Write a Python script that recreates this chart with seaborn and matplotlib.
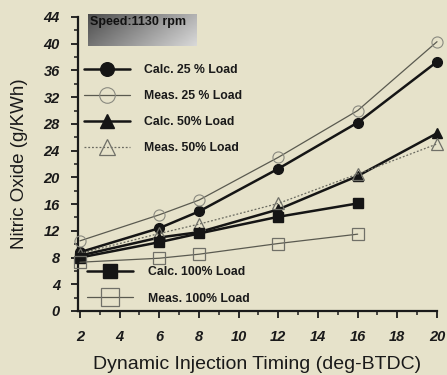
import numpy as np
import pandas as pd
import matplotlib
matplotlib.use("Agg")
import matplotlib.pyplot as plt
from matplotlib.lines import Line2D
from matplotlib.ticker import MultipleLocator
import seaborn as sns

# ---- data ----
timing_full = [2, 6, 8, 12, 16, 20]
timing_100 = [2, 6, 8, 12, 16]
calc_25 = [8.8, 12.4, 14.9, 21.3, 28.2, 37.3]
meas_25 = [10.5, 14.4, 16.6, 23.0, 30.0, 40.3]
calc_50 = [8.3, 11.0, 11.8, 15.2, 20.2, 26.6]
meas_50 = [8.6, 11.6, 13.0, 16.1, 20.5, 25.0]
calc_100 = [8.0, 10.3, 11.6, 14.1, 16.1]
meas_100 = [7.3, 7.9, 8.5, 10.1, 11.5]

labels = ["Calc. 25 % Load", "Meas. 25 % Load", "Calc. 50% Load",
          "Meas. 50% Load", "Calc. 100% Load", "Meas. 100% Load"]
x_ticks = [2, 4, 6, 8, 10, 12, 14, 16, 18, 20]
y_ticks = [0, 4, 8, 12, 16, 20, 24, 28, 32, 36, 40, 44]
speed_text = "Speed:1130 rpm"
x_label = "Dynamic Injection Timing (deg-BTDC)"
y_label = "Nitric Oxide (g/KWh)"

sns.set_style("ticks")
plt.rcParams["font.family"] = ["Liberation Sans", "DejaVu Sans"]

BG = "#e6e2ca"
fig = plt.figure(figsize=(4.47, 3.75), dpi=100, facecolor=BG)
ax = fig.add_axes([78 / 447, 1 - 311 / 375, (437 - 78) / 447, (311 - 17) / 375])
ax.set_facecolor(BG)

series = [
    (timing_full, calc_25, dict(color="#151515", lw=1.8, marker="o", ms=7, mfc="#151515", mec="#151515", ls="-")),
    (timing_full, meas_25, dict(color="#5a5a50", lw=0.9, marker="o", ms=8, mfc="none", mec="#8a8a80", mew=0.8, ls="-")),
    (timing_full, calc_50, dict(color="#151515", lw=1.8, marker="^", ms=7, mfc="#151515", mec="#151515", ls="-")),
    (timing_full, meas_50, dict(color="#6a6a60", lw=0.9, marker="^", ms=8, mfc="none", mec="#707068", mew=0.9, ls=(0, (1.5, 1.5)))),
    (timing_100, calc_100, dict(color="#151515", lw=1.8, marker="s", ms=7, mfc="#151515", mec="#151515", ls="-")),
    (timing_100, meas_100, dict(color="#5a5a50", lw=0.9, marker="s", ms=9, mfc="none", mec="#707068", mew=0.9, ls="-")),
]

handles = []
for (xs, ys, st), lab in zip(series, labels):
    df = pd.DataFrame({"x": xs, "y": ys})
    sns.lineplot(data=df, x="x", y="y", ax=ax, color=st["color"], linewidth=st["lw"],
                 marker=st["marker"], markersize=st["ms"], markerfacecolor=st["mfc"],
                 markeredgecolor=st["mec"], markeredgewidth=st.get("mew", 1.0),
                 linestyle=st["ls"], legend=False, clip_on=False, zorder=3)
    handles.append(Line2D([], [], color=st["color"], lw=st["lw"], marker=st["marker"],
                          markersize=st["ms"] * 1.4, markerfacecolor=st["mfc"],
                          markeredgecolor=st["mec"], markeredgewidth=st.get("mew", 1.0),
                          linestyle=st["ls"]))

ax.set_xlim(1.9, 20)
ax.set_ylim(0, 44)
ax.set_xticks(x_ticks)
ax.set_yticks(y_ticks)
ax.xaxis.set_minor_locator(MultipleLocator(1))
ax.yaxis.set_minor_locator(MultipleLocator(2))
for lab in ax.get_xticklabels() + ax.get_yticklabels():
    lab.set_fontstyle("italic")
    lab.set_fontweight("bold")
    lab.set_fontsize(10.5)
    lab.set_color("#1a1a1a")
ax.tick_params(axis="both", which="major", direction="out", length=5, width=1.3, color="#1a1a1a")
ax.tick_params(axis="both", which="minor", direction="out", length=3, width=1.1, color="#1a1a1a")
ax.tick_params(axis="x", which="major", pad=9)
ax.tick_params(axis="y", which="major", pad=8)
for s in ["top", "right"]:
    ax.spines[s].set_visible(False)
for s in ["left", "bottom"]:
    ax.spines[s].set_linewidth(1.6)
    ax.spines[s].set_color("#1a1a1a")

ax.set_xlabel(x_label, fontsize=14, color="#1a1a1a", labelpad=8)
ax.set_ylabel(y_label, fontsize=13.5, color="#1a1a1a", labelpad=11)

prop = dict(family="Liberation Sans", weight="bold", size=8.8)
leg1 = ax.legend(handles[:4], labels[:4], loc="upper left",
                 bbox_to_anchor=(84 / 447, 1 - 64 / 375), bbox_transform=fig.transFigure,
                 frameon=False, handlelength=3.8, handletextpad=1.1, labelspacing=1.15,
                 borderpad=0, borderaxespad=0, prop=prop)
ax.add_artist(leg1)
leg2 = ax.legend(handles[4:], labels[4:], loc="upper left",
                 bbox_to_anchor=(87 / 447, 1 - 266 / 375), bbox_transform=fig.transFigure,
                 frameon=False, handlelength=3.8, handletextpad=1.2, labelspacing=1.2,
                 borderpad=0, borderaxespad=0, prop=prop)
for leg in (leg1, leg2):
    for t in leg.get_texts():
        t.set_color("#1a1a1a")

# Speed box with gray gradient
bax = fig.add_axes([88 / 447, 1 - 46 / 375, (197 - 88) / 447, (46 - 14) / 375])
gx = np.linspace(0, 1, 200)
gy = np.linspace(0, 1, 40)
G = 0.30 + 0.40 * gx[None, :] - 0.15 * gy[:, None] + 0.15
bax.imshow(G, cmap="gray", vmin=0, vmax=1.0, aspect="auto", extent=(0, 1, 0, 1), origin="lower")
bax.set_xticks([])
bax.set_yticks([])
for s in bax.spines.values():
    s.set_visible(False)
bax.text(0.02, 0.75, speed_text, fontsize=9, fontweight="bold", color="#111111",
         va="center", ha="left", transform=bax.transAxes)

fig.savefig("out.png", dpi=100, facecolor=BG)
